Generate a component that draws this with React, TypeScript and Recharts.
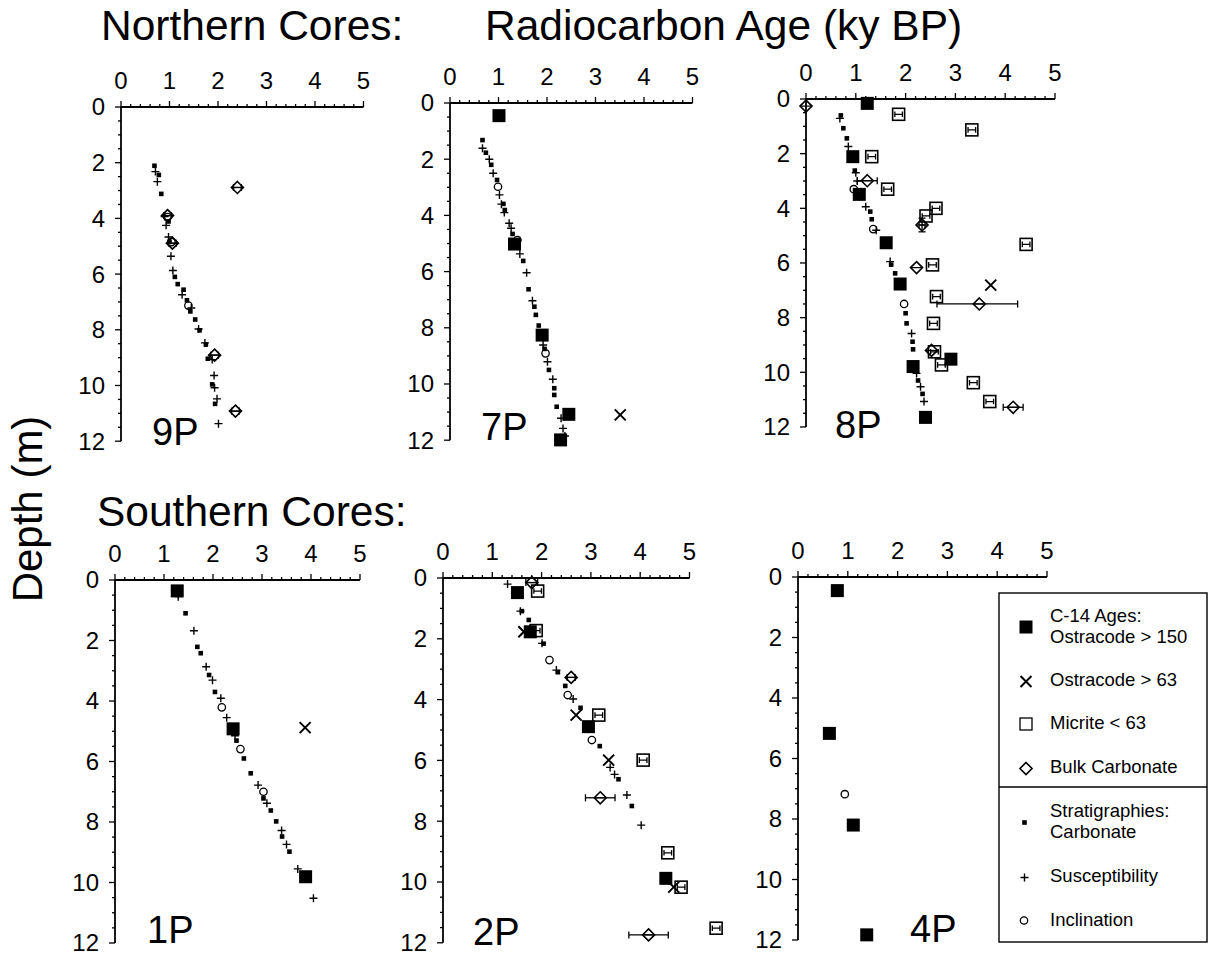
import React from 'react';
import { ScatterChart, Scatter, XAxis, YAxis, ErrorBar, ReferenceLine } from 'recharts';

type Pt = { age: number; depth: number; err?: number | number[]; derr?: number };

const FONT = '"Liberation Sans", Arial, Helvetica, sans-serif';

// ---------- axis ticks ----------
const xTicks = [0, 0.2, 0.4, 0.6, 0.8, 1, 1.2, 1.4, 1.6, 1.8, 2, 2.2, 2.4, 2.6, 2.8, 3, 3.2, 3.4, 3.6, 3.8, 4, 4.2, 4.4, 4.6, 4.8, 5];
const yTicks = [0, 0.5, 1, 1.5, 2, 2.5, 3, 3.5, 4, 4.5, 5, 5.5, 6, 6.5, 7, 7.5, 8, 8.5, 9, 9.5, 10, 10.5, 11, 11.5, 12];

// ---------- core 9P ----------
const p9Carbonate: Pt[] = [
  { age: 0.69, depth: 2.11 }, { age: 0.78, depth: 2.44 }, { age: 0.83, depth: 3.12 }, { age: 0.98, depth: 4.11 },
  { age: 1.0, depth: 4.84 }, { age: 1.11, depth: 6.1 }, { age: 1.17, depth: 6.36 }, { age: 1.29, depth: 6.56 },
  { age: 1.36, depth: 6.94 }, { age: 1.43, depth: 7.34 }, { age: 1.53, depth: 7.63 }, { age: 1.62, depth: 8.02 },
  { age: 1.75, depth: 8.53 }, { age: 1.79, depth: 9.04 }, { age: 1.88, depth: 9.96 }, { age: 1.94, depth: 10.66 },
];
const p9Susceptibility: Pt[] = [
  { age: 0.71, depth: 2.32 }, { age: 0.75, depth: 2.68 }, { age: 0.9, depth: 3.93 }, { age: 0.93, depth: 4.25 },
  { age: 0.98, depth: 4.67 }, { age: 1.03, depth: 5.36 }, { age: 1.07, depth: 5.87 }, { age: 1.26, depth: 6.74 },
  { age: 1.45, depth: 7.22 }, { age: 1.6, depth: 7.97 }, { age: 1.73, depth: 8.47 }, { age: 1.88, depth: 9.07 },
  { age: 1.92, depth: 9.64 }, { age: 1.93, depth: 10.08 }, { age: 1.98, depth: 10.48 }, { age: 2.01, depth: 11.37 },
];
const p9Inclination: Pt[] = [
  { age: 0.96, depth: 3.95 }, { age: 1.04, depth: 4.85 }, { age: 1.39, depth: 7.13 },
];
const p9Bulk: Pt[] = [
  { age: 2.4, depth: 2.89, err: 0.08 }, { age: 0.96, depth: 3.9, err: 0.08 }, { age: 1.06, depth: 4.89, err: 0.08 },
  { age: 1.93, depth: 8.91, err: 0.08 }, { age: 2.36, depth: 10.92, err: 0.08 },
];

// ---------- core 7P ----------
const p7C14: Pt[] = [
  { age: 1.01, depth: 0.45 }, { age: 1.33, depth: 5.02 }, { age: 1.9, depth: 8.26 }, { age: 2.45, depth: 11.08 }, { age: 2.28, depth: 11.99 },
];
const p7Ostracode63: Pt[] = [{ age: 3.51, depth: 11.1 }];
const p7Carbonate: Pt[] = [
  { age: 0.67, depth: 1.32 }, { age: 0.74, depth: 1.77 }, { age: 0.85, depth: 2.2 }, { age: 0.97, depth: 2.74 },
  { age: 1.1, depth: 3.59 }, { age: 1.13, depth: 3.81 }, { age: 1.29, depth: 4.66 }, { age: 1.51, depth: 5.62 },
  { age: 1.62, depth: 6.63 }, { age: 1.74, depth: 7.25 }, { age: 1.77, depth: 7.54 }, { age: 1.83, depth: 7.92 },
  { age: 1.95, depth: 8.75 }, { age: 2.04, depth: 9.5 }, { age: 2.15, depth: 10.15 }, { age: 2.15, depth: 10.39 },
  { age: 2.2, depth: 10.81 },
];
const p7Susceptibility: Pt[] = [
  { age: 0.67, depth: 1.61 }, { age: 0.81, depth: 2.0 }, { age: 0.89, depth: 2.5 }, { age: 1.02, depth: 3.27 },
  { age: 1.06, depth: 3.6 }, { age: 1.12, depth: 3.9 }, { age: 1.22, depth: 4.28 }, { age: 1.26, depth: 4.46 },
  { age: 1.44, depth: 5.37 }, { age: 1.58, depth: 6.04 }, { age: 1.7, depth: 7.04 }, { age: 1.92, depth: 8.61 },
  { age: 2.01, depth: 9.21 }, { age: 2.12, depth: 9.83 }, { age: 2.29, depth: 11.22 }, { age: 2.33, depth: 11.58 },
  { age: 2.37, depth: 11.85 },
];
const p7Inclination: Pt[] = [
  { age: 0.99, depth: 2.98 }, { age: 1.39, depth: 4.88 }, { age: 1.97, depth: 8.91 },
];

// ---------- core 8P ----------
const p8C14: Pt[] = [
  { age: 1.23, depth: 0.16 }, { age: 0.94, depth: 2.11 }, { age: 1.07, depth: 3.49 }, { age: 1.61, depth: 5.26 },
  { age: 1.89, depth: 6.77 }, { age: 2.91, depth: 9.52 }, { age: 2.15, depth: 9.79 }, { age: 2.4, depth: 11.65 },
];
const p8Ostracode63: Pt[] = [{ age: 3.71, depth: 6.81 }];
const p8Micrite: Pt[] = [
  { age: 1.86, depth: 0.56 }, { age: 3.33, depth: 1.13 }, { age: 1.32, depth: 2.11 }, { age: 1.64, depth: 3.3 },
  { age: 2.61, depth: 4.0 }, { age: 2.41, depth: 4.28 }, { age: 4.42, depth: 5.32 }, { age: 2.54, depth: 6.07 },
  { age: 2.62, depth: 7.23 }, { age: 2.56, depth: 8.21 }, { age: 2.58, depth: 9.25 }, { age: 2.72, depth: 9.73 },
  { age: 3.36, depth: 10.38 }, { age: 3.69, depth: 11.07 },
];
const p8Bulk: Pt[] = [
  { age: 0.0, depth: 0.26 }, { age: 1.23, depth: 2.99, err: 0.2 }, { age: 2.33, depth: 4.61, err: 0.06, derr: 0.25 },
  { age: 2.22, depth: 6.17 }, { age: 3.48, depth: 7.5, err: [0.85, 0.77] }, { age: 2.52, depth: 9.2 },
  { age: 4.16, depth: 11.28, err: 0.2 },
];
const p8Carbonate: Pt[] = [
  { age: 0.7, depth: 0.6 }, { age: 0.75, depth: 1.07 }, { age: 0.82, depth: 1.44 }, { age: 0.98, depth: 2.62 },
  { age: 1.29, depth: 4.12 }, { age: 1.32, depth: 4.4 }, { age: 1.71, depth: 6.06 }, { age: 1.79, depth: 6.38 },
  { age: 2.0, depth: 7.84 }, { age: 2.02, depth: 8.21 }, { age: 2.14, depth: 8.88 }, { age: 2.15, depth: 9.16 },
  { age: 2.25, depth: 10.3 }, { age: 2.34, depth: 10.79 },
];
const p8Susceptibility: Pt[] = [
  { age: 0.68, depth: 0.71 }, { age: 0.85, depth: 1.74 }, { age: 1.0, depth: 2.7 }, { age: 1.03, depth: 3.0 },
  { age: 1.2, depth: 3.94 }, { age: 1.41, depth: 4.8 }, { age: 1.69, depth: 5.95 }, { age: 2.12, depth: 8.58 },
  { age: 2.22, depth: 10.04 }, { age: 2.3, depth: 10.53 }, { age: 2.37, depth: 11.07 },
];
const p8Inclination: Pt[] = [
  { age: 0.96, depth: 3.3 }, { age: 1.35, depth: 4.76 }, { age: 1.97, depth: 7.5 },
];

// ---------- core 1P ----------
const p1C14: Pt[] = [{ age: 1.27, depth: 0.36 }, { age: 2.41, depth: 4.92 }, { age: 3.89, depth: 9.81 }];
const p1Ostracode63: Pt[] = [{ age: 3.88, depth: 4.88 }];
const p1Carbonate: Pt[] = [
  { age: 1.44, depth: 1.1 }, { age: 1.68, depth: 2.21 }, { age: 1.75, depth: 2.42 }, { age: 1.92, depth: 3.14 },
  { age: 2.04, depth: 3.7 }, { age: 2.48, depth: 5.31 }, { age: 2.63, depth: 5.9 }, { age: 2.77, depth: 6.39 },
  { age: 3.03, depth: 7.22 }, { age: 3.18, depth: 7.62 }, { age: 3.29, depth: 7.98 }, { age: 3.41, depth: 8.48 },
  { age: 3.56, depth: 8.98 },
];
const p1Susceptibility: Pt[] = [
  { age: 1.29, depth: 0.55 }, { age: 1.61, depth: 1.68 }, { age: 1.86, depth: 2.87 }, { age: 1.99, depth: 3.31 },
  { age: 2.16, depth: 3.91 }, { age: 2.28, depth: 4.55 }, { age: 2.45, depth: 5.15 }, { age: 2.92, depth: 6.78 },
  { age: 3.1, depth: 7.38 }, { age: 3.4, depth: 8.28 }, { age: 3.5, depth: 8.74 }, { age: 3.73, depth: 9.55 },
  { age: 4.05, depth: 10.52 },
];
const p1Inclination: Pt[] = [{ age: 2.18, depth: 4.21 }, { age: 2.56, depth: 5.59 }, { age: 3.03, depth: 7.0 }];

// ---------- core 2P ----------
const p2C14: Pt[] = [
  { age: 1.51, depth: 0.48 }, { age: 1.77, depth: 1.77 }, { age: 2.95, depth: 4.89 }, { age: 4.52, depth: 9.88 },
];
const p2Ostracode63: Pt[] = [
  { age: 1.64, depth: 1.77 }, { age: 2.7, depth: 4.51 }, { age: 3.36, depth: 5.99 }, { age: 4.68, depth: 10.17 },
];
const p2Micrite: Pt[] = [
  { age: 1.92, depth: 0.43 }, { age: 1.89, depth: 1.73 }, { age: 3.16, depth: 4.51 }, { age: 4.06, depth: 5.99 },
  { age: 4.56, depth: 9.04 }, { age: 4.83, depth: 10.17 }, { age: 5.54, depth: 11.52 },
];
const p2Bulk: Pt[] = [
  { age: 1.8, depth: 0.15, err: 0.12 }, { age: 2.6, depth: 3.27, err: 0.08 }, { age: 3.19, depth: 7.23, err: 0.3 },
  { age: 4.17, depth: 11.74, err: 0.4 },
];
const p2Carbonate: Pt[] = [
  { age: 1.6, depth: 1.09 }, { age: 1.74, depth: 1.38 }, { age: 2.04, depth: 2.16 }, { age: 2.33, depth: 3.1 },
  { age: 2.48, depth: 3.55 }, { age: 2.79, depth: 4.27 }, { age: 3.18, depth: 5.53 }, { age: 3.56, depth: 6.62 },
  { age: 3.83, depth: 7.5 },
];
const p2Susceptibility: Pt[] = [
  { age: 1.31, depth: 0.2 }, { age: 1.57, depth: 1.09 }, { age: 2.01, depth: 2.15 }, { age: 2.3, depth: 3.03 },
  { age: 2.64, depth: 3.98 }, { age: 3.39, depth: 6.23 }, { age: 3.48, depth: 6.46 }, { age: 3.73, depth: 7.14 },
  { age: 4.02, depth: 8.13 },
];
const p2Inclination: Pt[] = [{ age: 2.16, depth: 2.7 }, { age: 2.53, depth: 3.85 }, { age: 3.02, depth: 5.33 }];

// ---------- core 4P ----------
const p4C14: Pt[] = [
  { age: 0.79, depth: 0.45 }, { age: 0.63, depth: 5.17 }, { age: 1.11, depth: 8.2 }, { age: 1.38, depth: 11.83 },
];
const p4Inclination: Pt[] = [{ age: 0.94, depth: 7.18 }];

// ---------- legend ----------
const legendTop = ['C-14 Ages:', 'Ostracode > 150', 'Ostracode > 63', 'Micrite < 63', 'Bulk Carbonate'];
const legendBottom = ['Stratigraphies:', 'Carbonate', 'Susceptibility', 'Inclination'];

// ---------- glyphs ----------
const C14Glyph = ({ cx, cy }: any) => <rect x={cx - 6.5} y={cy - 6.5} width={13} height={13} fill="#000" />;
const XGlyph = ({ cx, cy }: any) => (
  <path d={`M${cx - 5.5},${cy - 5.5}L${cx + 5.5},${cy + 5.5}M${cx + 5.5},${cy - 5.5}L${cx - 5.5},${cy + 5.5}`} stroke="#000" strokeWidth={2} fill="none" />
);
const MicriteGlyph = ({ cx, cy }: any) => (
  <g>
    <rect x={cx - 6} y={cy - 6} width={12} height={12} fill="none" stroke="#000" strokeWidth={1.6} />
    <path d={`M${cx - 3.8},${cy}H${cx + 3.8}M${cx - 3.8},${cy - 2.8}V${cy + 2.8}M${cx + 3.8},${cy - 2.8}V${cy + 2.8}`} stroke="#000" strokeWidth={1.3} fill="none" />
  </g>
);
const BulkGlyph = ({ cx, cy, bar = true }: any) => (
  <g>
    <path d={`M${cx},${cy - 6}L${cx + 6},${cy}L${cx},${cy + 6}L${cx - 6},${cy}Z`} fill="none" stroke="#000" strokeWidth={1.6} />
    {bar && <path d={`M${cx - 6},${cy}H${cx + 6}`} stroke="#000" strokeWidth={1.2} />}
  </g>
);
const CarbGlyph = ({ cx, cy }: any) => <rect x={cx - 2.3} y={cy - 2.3} width={4.6} height={4.6} fill="#000" />;
const SuscGlyph = ({ cx, cy }: any) => (
  <path d={`M${cx - 4},${cy}H${cx + 4}M${cx},${cy - 4}V${cy + 4}`} stroke="#000" strokeWidth={1.4} fill="none" />
);
const InclGlyph = ({ cx, cy }: any) => <circle cx={cx} cy={cy} r={3.7} fill="none" stroke="#000" strokeWidth={1.3} />;

const XTick = (props: any) => {
  const { x, y, payload } = props;
  const v = payload.value;
  const major = Math.abs(v - Math.round(v)) < 1e-6;
  return (
    <g>
      <line x1={x} x2={x} y1={y} y2={y - (major ? 6 : 3)} stroke="#000" strokeWidth={1.3} />
      {major && (
        <text x={x} y={y - 18} textAnchor="middle" fontSize={24} fontFamily={FONT} fill="#000">{Math.round(v)}</text>
      )}
    </g>
  );
};
const YTick = (props: any) => {
  const { x, y, payload } = props;
  const v = payload.value;
  const major = Math.abs(v / 2 - Math.round(v / 2)) < 1e-6;
  return (
    <g>
      <line x1={x} x2={x - (major ? 6 : 3)} y1={y} y2={y} stroke="#000" strokeWidth={1.3} />
      {major && (
        <text x={x - 16} y={y + 8.5} textAnchor="end" fontSize={24} fontFamily={FONT} fill="#000">{v}</text>
      )}
    </g>
  );
};

type Series = {
  carb?: Pt[]; susc?: Pt[]; incl?: Pt[]; bulk?: Pt[]; micrite?: Pt[]; ostr?: Pt[]; c14?: Pt[];
};

const YW = 62;
const XH = 44;

const Panel = ({ x0, y0, sx, sy, s }: { x0: number; y0: number; sx: number; sy: number; s: Series }) => {
  const XMAX = 5.7;
  const pw = XMAX * sx;
  const ph = 12 * sy;
  const W = YW + pw + 6;
  const H = XH + ph + 22;
  return (
    <div style={{ position: 'absolute', left: x0 - YW, top: y0 - XH }}>
      <ScatterChart width={W} height={H} margin={{ top: 0, right: 6, bottom: 22, left: 0 }}>
        <XAxis type="number" dataKey="age" orientation="top" domain={[0, XMAX]} ticks={xTicks} interval={0}
          height={XH} axisLine={false} tickLine={false} tickSize={0} tickMargin={0} tick={XTick} />
        <YAxis type="number" dataKey="depth" reversed domain={[0, 12]} ticks={yTicks} interval={0} width={YW}
          axisLine={{ stroke: '#000', strokeWidth: 1.8 }} tickLine={false} tickSize={0} tickMargin={0} tick={YTick} />
        <ReferenceLine segment={[{ x: 0, y: 0 }, { x: 5, y: 0 }]} stroke="#000" strokeWidth={1.8} />
        {s.carb && <Scatter data={s.carb} isAnimationActive={false} shape={(p: any) => <CarbGlyph cx={p.cx} cy={p.cy} />} />}
        {s.susc && <Scatter data={s.susc} isAnimationActive={false} shape={(p: any) => <SuscGlyph cx={p.cx} cy={p.cy} />} />}
        {s.incl && <Scatter data={s.incl} isAnimationActive={false} shape={(p: any) => <InclGlyph cx={p.cx} cy={p.cy} />} />}
        {s.bulk && (
          <Scatter data={s.bulk} isAnimationActive={false} shape={(p: any) => <BulkGlyph cx={p.cx} cy={p.cy} />}>
            <ErrorBar dataKey="err" direction="x" width={3.5} stroke="#000" strokeWidth={1.3} />
            <ErrorBar dataKey="derr" direction="y" width={3.5} stroke="#000" strokeWidth={1.3} />
          </Scatter>
        )}
        {s.micrite && <Scatter data={s.micrite} isAnimationActive={false} shape={(p: any) => <MicriteGlyph cx={p.cx} cy={p.cy} />} />}
        {s.ostr && <Scatter data={s.ostr} isAnimationActive={false} shape={(p: any) => <XGlyph cx={p.cx} cy={p.cy} />} />}
        {s.c14 && <Scatter data={s.c14} isAnimationActive={false} shape={(p: any) => <C14Glyph cx={p.cx} cy={p.cy} />} />}
      </ScatterChart>
    </div>
  );
};

export default function App() {
  return (
    <div style={{ position: 'absolute', left: 0, top: 0, width: 1210, height: 955, background: '#fff', overflow: 'hidden' }}>
      <Panel x0={120.7} y0={107.3} sx={48.5} sy={27.85}
        s={{ carb: p9Carbonate, susc: p9Susceptibility, incl: p9Inclination, bulk: p9Bulk }} />
      <Panel x0={450} y0={103} sx={48.5} sy={28.1}
        s={{ carb: p7Carbonate, susc: p7Susceptibility, incl: p7Inclination, ostr: p7Ostracode63, c14: p7C14 }} />
      <Panel x0={806} y0={99} sx={49.8} sy={27.33}
        s={{ carb: p8Carbonate, susc: p8Susceptibility, incl: p8Inclination, bulk: p8Bulk, micrite: p8Micrite, ostr: p8Ostracode63, c14: p8C14 }} />
      <Panel x0={115} y0={580} sx={49} sy={30.25}
        s={{ carb: p1Carbonate, susc: p1Susceptibility, incl: p1Inclination, ostr: p1Ostracode63, c14: p1C14 }} />
      <Panel x0={442.7} y0={578} sx={49.3} sy={30.4}
        s={{ carb: p2Carbonate, susc: p2Susceptibility, incl: p2Inclination, bulk: p2Bulk, micrite: p2Micrite, ostr: p2Ostracode63, c14: p2C14 }} />
      <Panel x0={798} y0={577} sx={49.8} sy={30.25}
        s={{ incl: p4Inclination, c14: p4C14 }} />

      <svg width={1210} height={955} style={{ position: 'absolute', left: 0, top: 0, pointerEvents: 'none' }}>
        <g fontFamily={FONT} fill="#000">
          <text x={101} y={39.5} fontSize={42.5}>Northern Cores:</text>
          <text x={485} y={39.5} fontSize={42.5}>Radiocarbon Age (ky BP)</text>
          <text x={97} y={526} fontSize={42.5}>Southern Cores:</text>
          <text x={42} y={509} fontSize={42} textAnchor="middle" transform="rotate(-90 42 509)">Depth (m)</text>

          <text x={152} y={445} fontSize={38}>9P</text>
          <text x={481} y={440} fontSize={38}>7P</text>
          <text x={835} y={438} fontSize={38}>8P</text>
          <text x={147} y={943} fontSize={38}>1P</text>
          <text x={473} y={945} fontSize={38}>2P</text>
          <text x={910} y={942} fontSize={38}>4P</text>
        </g>

        <g fontFamily={FONT} fill="#000" fontSize={18.5}>
          <rect x={999} y={593} width={208} height={349} fill="none" stroke="#000" strokeWidth={1.4} />
          <line x1={999} x2={1207} y1={787} y2={787} stroke="#000" strokeWidth={1.4} />
          <C14Glyph cx={1026} cy={627} />
          <text x={1050} y={621.5}>{legendTop[0]}</text>
          <text x={1050} y={642.5}>{legendTop[1]}</text>
          <XGlyph cx={1026} cy={681.5} />
          <text x={1050} y={685.5}>{legendTop[2]}</text>
          <rect x={1020} y={718} width={12} height={12} fill="none" stroke="#000" strokeWidth={1.3} />
          <text x={1050} y={729}>{legendTop[3]}</text>
          <BulkGlyph cx={1026} cy={768.5} bar={false} />
          <text x={1050} y={772.5}>{legendTop[4]}</text>

          <CarbGlyph cx={1024.5} cy={822.5} />
          <text x={1050} y={816.5}>{legendBottom[0]}</text>
          <text x={1050} y={838}>{legendBottom[1]}</text>
          <SuscGlyph cx={1024.5} cy={877.5} />
          <text x={1050} y={881.5}>{legendBottom[2]}</text>
          <InclGlyph cx={1024} cy={920.5} />
          <text x={1050} y={925.5}>{legendBottom[3]}</text>
        </g>
      </svg>
    </div>
  );
}
